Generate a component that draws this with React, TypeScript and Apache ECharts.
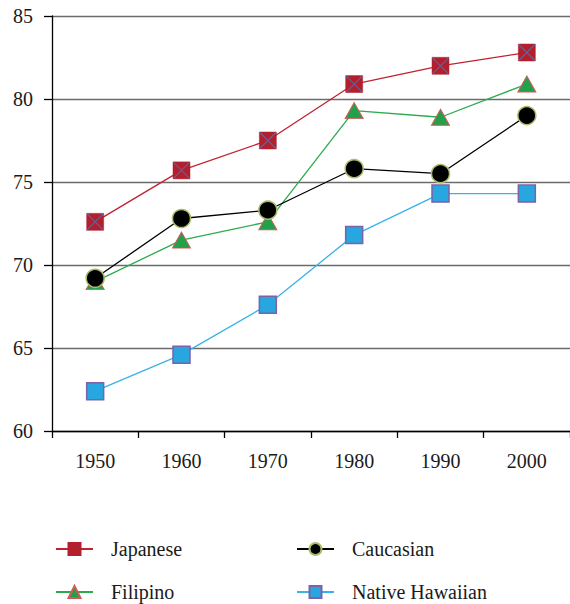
import React, { useEffect, useRef } from "react";
import * as echarts from "echarts";

const years = ["1950", "1960", "1970", "1980", "1990", "2000"];
const japanese = [72.6, 75.7, 77.5, 80.9, 82.0, 82.8];
const caucasian = [69.2, 72.8, 73.3, 75.8, 75.5, 79.0];
const filipino = [69.0, 71.5, 72.6, 79.3, 78.9, 80.9];
const nativeHawaiian = [62.4, 64.6, 67.6, 71.8, 74.3, 74.3];
const yTicks = [60, 65, 70, 75, 80, 85];

const FONT = "'Liberation Serif', 'Times New Roman', serif";

export default function App() {
  const ref = useRef<HTMLDivElement>(null);
  useEffect(() => {
    if (!ref.current) return;
    const chart = echarts.init(ref.current, undefined, { renderer: "svg" });
    const legendText = {
      fontFamily: FONT,
      fontSize: 20,
      color: "#1a1a1a",
      padding: [0, 0, 2, 13],
    };
    const mkLegend = (name: string, left: number, top: number) => ({
      left,
      top,
      padding: 0,
      orient: "horizontal",
      itemWidth: 37,
      itemHeight: 15,
      data: [name],
      textStyle: legendText,
      selectedMode: false,
    });
    chart.setOption({
      animation: false,
      backgroundColor: "#ffffff",
      textStyle: { fontFamily: FONT },
      grid: { left: 52, top: 16, right: 0, bottom: 173, containLabel: false },
      legend: [
        mkLegend("Japanese", 55, 539),
        mkLegend("Filipino", 55, 582),
        mkLegend("Caucasian", 296, 539),
        mkLegend("Native Hawaiian", 296, 582),
      ],
      xAxis: {
        type: "category",
        data: years,
        boundaryGap: true,
        axisLine: { show: true, lineStyle: { color: "#000", width: 1.3 } },
        axisTick: { show: true, length: 7, lineStyle: { color: "#000", width: 1.3 } },
        axisLabel: { fontFamily: FONT, fontSize: 20, color: "#1a1a1a", margin: 20 },
        splitLine: { show: false },
      },
      yAxis: {
        type: "value",
        min: yTicks[0],
        max: yTicks[yTicks.length - 1],
        interval: 5,
        axisLine: { show: true, lineStyle: { color: "#000", width: 1.3 } },
        axisTick: { show: true, length: 8, lineStyle: { color: "#000", width: 1.3 } },
        axisLabel: {
          fontFamily: FONT,
          fontSize: 20,
          color: "#1a1a1a",
          margin: 19,
          formatter: (v: number) => String(v),
        },
        splitLine: { show: true, lineStyle: { color: "#6b6b6b", width: 1.3 } },
      },
      series: [
        {
          name: "Native Hawaiian",
          type: "line",
          data: nativeHawaiian,
          symbol: "rect",
          symbolSize: 17,
          lineStyle: { color: "#38b2ea", width: 1.3 },
          itemStyle: { color: "#27a6e0", borderColor: "#7d62a8", borderWidth: 1.5 },
          emphasis: { disabled: true },
          z: 2,
        },
        {
          name: "Filipino",
          type: "line",
          data: filipino,
          symbol: "triangle",
          symbolSize: [18, 16],
          lineStyle: { color: "#2aab4c", width: 1.3 },
          itemStyle: { color: "#22a04a", borderColor: "#d25a5a", borderWidth: 1 },
          emphasis: { disabled: true },
          z: 3,
        },
        {
          name: "Caucasian",
          type: "line",
          data: caucasian,
          symbol: "circle",
          symbolSize: 18,
          lineStyle: { color: "#000000", width: 1.3 },
          itemStyle: { color: "#000000", borderColor: "#a9bd6a", borderWidth: 1.5 },
          emphasis: { disabled: true },
          z: 4,
        },
        {
          name: "Japanese",
          type: "line",
          data: japanese,
          symbol: "rect",
          symbolSize: 17,
          lineStyle: { color: "#c0232f", width: 1.3 },
          itemStyle: { color: "#b31f2c", borderColor: "#b31f2c", borderWidth: 0.5 },
          emphasis: { disabled: true },
          z: 5,
        },
        {
          name: "Japanese X",
          type: "scatter",
          data: japanese,
          symbol: "path://M0,0L10,10M10,0L0,10",
          symbolSize: 16,
          itemStyle: { color: "none", borderColor: "#4a74b8", borderWidth: 1.2 },
          emphasis: { disabled: true },
          silent: true,
          z: 6,
        },
      ],
    });
    return () => chart.dispose();
  }, []);
  return (
    <div
      ref={ref}
      style={{ position: "fixed", left: 0, top: 0, width: 570, height: 604 }}
    />
  );
}
